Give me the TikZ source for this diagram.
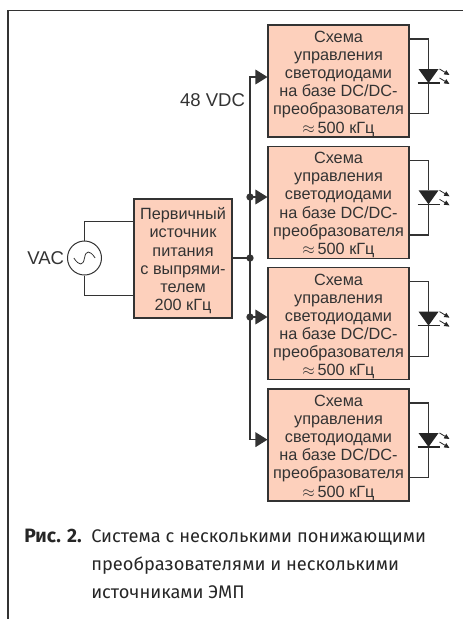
\documentclass[tikz,border=0pt]{standalone}
\usepackage{fontspec}
\setmainfont{Liberation Sans}
\newfontfamily\capfont{Fira Sans}
\usepackage{xcolor}
\usetikzlibrary{arrows.meta,positioning,calc}
\definecolor{boxfill}{HTML}{FDD0BC}
\definecolor{inkdark}{HTML}{333333}
\tikzset{
	wire/.style={draw=inkdark, line width=0.9pt},
	arrow/.style={wire, -{Triangle[length=9pt,width=11pt]}},
	junction/.style={circle, fill=inkdark, inner sep=0pt, minimum size=5.5pt},
	drvbox/.style={
		draw=inkdark, fill=boxfill, line width=0.8pt, align=center, inner sep=0pt,
		minimum width=105.75pt, minimum height=84pt, text=inkdark,
		text height=78pt, text depth=0pt,
		font=\fontsize{12.2}{13.6}\selectfont
	},
	led/.pic={
		\fill[black!85] (-10,-7) -- (10,-7) -- (0,7) -- cycle;
		\draw[black!85, line width=0.8pt] (-11,7) -- (11,7);
		\draw[black!85, line width=0.6pt, -{Triangle[length=4pt,width=3.5pt]}] (11,-7) -- (21,-1);
		\draw[black!85, line width=0.6pt, -{Triangle[length=4pt,width=3.5pt]}] (11,2) -- (21,8);
		\coordinate (-top) at (0,-7);
		\coordinate (-bot) at (0,7);
	}
}
\newcommand{\drvtext}{Схема\\управления\\светодиодами\\на базе DC/DC-\\преобразователя\\$\approx$\,500 кГц}
\begin{document}
\begin{tikzpicture}[x=0.75pt, y=-0.75pt]
	\useasboundingbox (0,0) rectangle (463,619);
	
	%% -- Page frame
	\draw[inkdark, line width=0.9pt] (463,10.5) -- (8,10.5) -- (8,619);
	
	%% -- Primary supply and source
	\node[drvbox, minimum width=73.5pt, minimum height=89.25pt] (prim) at (183,258.5)
	{Первичный\\источник\\питания\\с выпрями-\\телем\\200 кГц};
	
	\node[draw=inkdark, circle, line width=0.75pt, inner sep=0pt, minimum size=25.5pt] (vac) at (84.5,258) {};
	\draw[inkdark, line width=0.6pt] ([xshift=-8pt]vac.center)
	.. controls ([shift={(-4pt,-6pt)}]vac.center) and ([shift={(-1pt,-6pt)}]vac.center) .. (vac.center)
	.. controls ([shift={(1pt,6pt)}]vac.center) and ([shift={(4pt,6pt)}]vac.center) .. ([xshift=8pt]vac.center);
	
	\node[text=inkdark, font=\fontsize{13.9}{16}\selectfont, left=2pt of vac, inner sep=0pt] (vaclabel) {VAC};
	
	\draw[wire] (vac.north) |- ([yshift=28pt]prim.west);
	\draw[wire] (vac.south) |- ([yshift=-27.5pt]prim.west);
	
	%% -- Driver blocks
	\node[drvbox] (drv1) at (338.5,81) {\drvtext};
	\node[drvbox, below=6.2pt of drv1] (drv2) {\drvtext};
	\node[drvbox, below=6.2pt of drv2] (drv3) {\drvtext};
	\node[drvbox, below=6.2pt of drv3] (drv4) {\drvtext};
	
	%% -- Bus
	\coordinate (bus) at (250,258);
	\node[text=inkdark, font=\fontsize{13.9}{16}\selectfont, inner sep=0pt] (vdc) at (212.5,100) {48 VDC};
	
	\draw[wire] (prim.east |- bus) -- (bus);
	\draw[arrow] (bus) |- ([yshift=3pt]drv1.west);
	\draw[arrow] (bus) |- ([yshift=4pt]drv2.west);
	\draw[arrow] (bus) |- ([yshift=5pt]drv3.west);
	\draw[arrow] (bus) |- ([yshift=4pt]drv4.west);
	
	\node[junction] (jbus) at (bus) {};
	\node[junction] (j2) at (bus |- {$(drv2.west)+(0,4pt)$}) {};
	\node[junction] (j3) at (bus |- {$(drv3.west)+(0,5pt)$}) {};
	
	%% -- LEDs
	\pic (led1) at ([shift={(14.25pt,3.75pt)}]drv1.east) {led};
	\pic (led2) at ([shift={(14.25pt,3.75pt)}]drv2.east) {led};
	\pic (led3) at ([shift={(14.25pt,3.75pt)}]drv3.east) {led};
	\pic (led4) at ([shift={(14.25pt,3.75pt)}]drv4.east) {led};
	
	\draw[wire] ([yshift=31.5pt]drv1.east) -| (led1-top);
	\draw[wire] (led1-bot) |- ([yshift=-24.5pt]drv1.east);
	\draw[wire] ([yshift=31.5pt]drv2.east) -| (led2-top);
	\draw[wire] (led2-bot) |- ([yshift=-24.5pt]drv2.east);
	\draw[wire] ([yshift=31.5pt]drv3.east) -| (led3-top);
	\draw[wire] (led3-bot) |- ([yshift=-24.5pt]drv3.east);
	\draw[wire] ([yshift=31.5pt]drv4.east) -| (led4-top);
	\draw[wire] (led4-bot) |- ([yshift=-24.5pt]drv4.east);
	
	%% -- Caption
	\node[anchor=north west, align=left, inner sep=0pt, text=black!85,
	font=\capfont\fontsize{13.7}{21}\selectfont] (caption) at (24,529)
	{\makebox[50.25pt][l]{\fontsize{14.5}{21}\selectfont\textbf{Рис. 2.}}Система с несколькими понижающими\\
		\hspace*{50.25pt}преобразователями и несколькими\\
		\hspace*{50.25pt}источниками ЭМП};
	
\end{tikzpicture}
\end{document}
